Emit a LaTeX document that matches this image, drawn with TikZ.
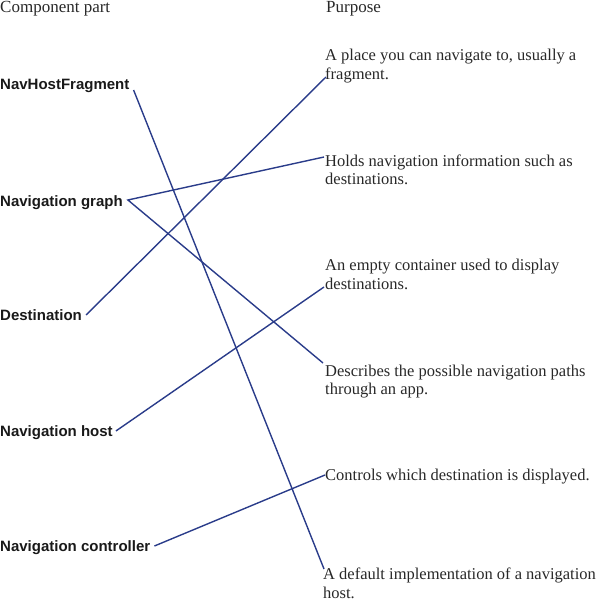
\documentclass[tikz,border=0pt]{standalone}
\usepackage{fontspec}
\setmainfont{Liberation Serif}
\newfontfamily\labfont{Liberation Sans}
\definecolor{linkblue}{RGB}{42,60,138}
\definecolor{txtgray}{RGB}{40,40,40}
\begin{document}
\begin{tikzpicture}[x=1pt,y=-1pt,
  head/.style={font=\fontsize{17}{20}\selectfont, inner sep=0pt, anchor=base west, text=txtgray},
  comp/.style={font=\labfont\bfseries\fontsize{15}{18}\selectfont, inner sep=0pt, anchor=base west, text=black!90},
  purp/.style={font=\fontsize{16.5}{18.7}\selectfont, align=left, inner sep=0pt, anchor=base west, text=txtgray},
  link/.style={draw=linkblue, line width=1.4pt}]
\useasboundingbox (0,0) rectangle (600,604);
% headers
\node[head] (h1) at (0,13) {Component part};
\node[head] (h2) at (326,13) {Purpose};
% components
\node[comp] (nhf) at (0,90) {NavHostFragment};
\node[comp] (ngr) at (0,206) {Navigation graph};
\node[comp] (dst) at (0,320) {Destination};
\node[comp] (nho) at (0,436) {Navigation host};
\node[comp] (nct) at (0,551) {Navigation controller};
% purposes (base anchor = baseline of the last line)
\node[purp] (p1) at (325,79.3) {A place you can navigate to, usually a\\fragment.};
\node[purp] (p2) at (325,184.7) {Holds navigation information such as\\destinations.};
\node[purp] (p3) at (325,289.4) {An empty container used to display\\destinations.};
\node[purp] (p4) at (325,394.7) {Describes the possible navigation paths\\through an app.};
\node[purp] (p5) at (325,480) {Controls which destination is displayed.};
\node[purp] (p6) at (323,598.5) {A default implementation of a navigation\\host.};
% connector ends
\coordinate (s1) at ([xshift=4pt]nhf.base east);
\coordinate (s2) at ([xshift=5pt,yshift=6pt]ngr.base east);
\coordinate (s3) at ([xshift=4pt,yshift=5pt]dst.base east);
\coordinate (s4) at ([xshift=3pt,yshift=5pt]nho.base east);
\coordinate (s5) at ([xshift=4pt,yshift=5pt]nct.base east);
\coordinate (e1) at ([xshift=1pt,yshift=2.3pt]p1.base west);
\coordinate (e2) at ([xshift=-1pt,yshift=27.7pt]p2.base west);
\coordinate (e3) at ([xshift=-1pt,yshift=2.4pt]p3.base west);
\coordinate (e4) at ([xshift=-2pt,yshift=31.7pt]p4.base west);
\coordinate (e5) at ([yshift=5pt]p5.base west);
\coordinate (e6) at ([xshift=1pt,yshift=29.5pt]p6.base west);
% connectors
\draw[link] (s1) -- (e6);
\draw[link] (e2) -- (s2) -- (e4);
\draw[link] (s3) -- (e1);
\draw[link] (s4) -- (e3);
\draw[link] (s5) -- (e5);
\end{tikzpicture}
\end{document}
